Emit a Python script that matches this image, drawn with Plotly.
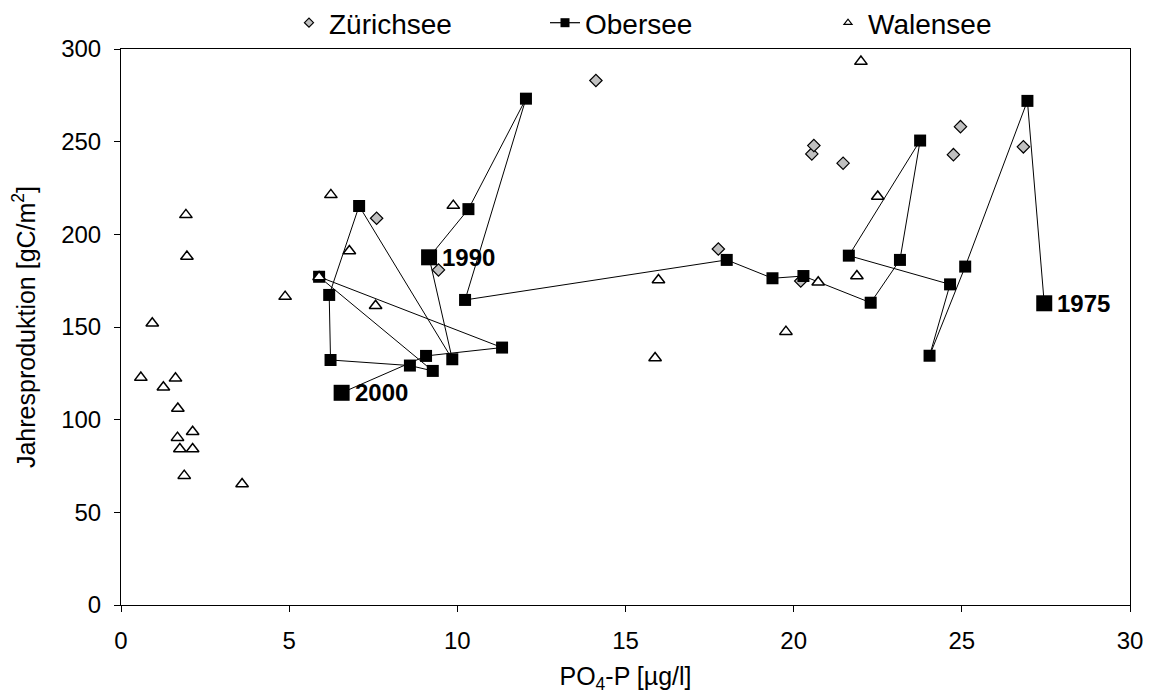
import plotly.graph_objects as go

# --- Data -------------------------------------------------------------
zuerich_x = [7.60, 9.44, 14.12, 17.76, 20.21, 20.54, 20.60, 21.47, 24.75, 24.96, 26.83]
zuerich_y = [208.7, 180.8, 283.0, 192.1, 174.8, 243.4, 247.9, 238.4, 243.0, 258.1, 247.2]

ober_years = list(range(1975, 2001))
ober_x = [27.45, 26.95, 25.10, 24.04, 24.65, 21.64, 23.76, 23.16, 22.29, 20.29,
          19.37, 18.01, 10.23, 12.04, 10.33, 9.16, 9.85, 7.08, 6.19, 6.23,
          8.59, 9.27, 5.89, 11.33, 9.07, 6.56]
ober_y = [162.8, 272.0, 182.6, 134.5, 173.0, 188.5, 250.6, 186.2, 163.1, 177.5,
          176.3, 186.2, 164.6, 273.2, 213.6, 187.6, 132.6, 215.3, 167.3, 132.2,
          129.2, 126.3, 177.1, 138.9, 134.4, 114.5]
labeled_years = [1975, 1990, 2000]

walen_x = [0.59, 0.93, 1.26, 1.62, 1.69, 1.68, 2.13, 1.75, 2.13, 1.88, 1.93, 1.96,
           3.60, 4.88, 5.89, 6.24, 6.79, 7.57, 9.88, 15.98, 15.88, 19.77, 20.73,
           21.88, 22.50, 22.00]
walen_y = [122.7, 152.0, 117.5, 122.3, 106.0, 90.3, 93.5, 84.2, 84.2, 69.8, 210.5, 188.0,
           65.3, 166.4, 177.0, 221.3, 191.0, 161.5, 215.5, 175.4, 133.3, 147.5, 174.1,
           177.5, 220.4, 293.2]

x_ticks = [0, 5, 10, 15, 20, 25, 30]
y_ticks = [0, 50, 100, 150, 200, 250, 300]

FONT = "Liberation Sans, Arial, sans-serif"

fig = go.Figure()

fig.add_trace(go.Scatter(
    x=zuerich_x, y=zuerich_y, mode="markers", name="Zürichsee", showlegend=False,
    marker=dict(symbol="diamond", size=9.5, color="#c0c0c0", opacity=1,
                line=dict(color="black", width=1.2)),
))

ober_sizes = [16 if yr in labeled_years else 12 for yr in ober_years]
fig.add_trace(go.Scatter(
    x=ober_x, y=ober_y, mode="lines+markers", name="Obersee", showlegend=False,
    line=dict(color="black", width=1),
    marker=dict(symbol="square", size=ober_sizes, color="black", opacity=1, line=dict(width=0)),
))

fig.add_trace(go.Scatter(
    x=walen_x, y=walen_y, mode="markers", name="Walensee", showlegend=False,
    marker=dict(symbol="triangle-up", size=11, color="white", opacity=1,
                line=dict(color="black", width=1.5)),
))

# Legend-only entries (small symbols), each in its own legend for exact placement
fig.add_trace(go.Scatter(
    x=[None], y=[None], mode="markers", name="Zürichsee", legend="legend",
    marker=dict(symbol="diamond", size=7, color="#c0c0c0", line=dict(color="black", width=1.2)),
))
fig.add_trace(go.Scatter(
    x=[None], y=[None], mode="lines+markers", name="Obersee", legend="legend2",
    line=dict(color="black", width=1.2),
    marker=dict(symbol="square", size=9, color="black", line=dict(width=0)),
))
fig.add_trace(go.Scatter(
    x=[None], y=[None], mode="markers", name="Walensee", legend="legend3",
    marker=dict(symbol="triangle-up", size=7, color="white", line=dict(color="black", width=1.2)),
))

for yr in labeled_years:
    i = ober_years.index(yr)
    fig.add_annotation(
        x=ober_x[i], y=ober_y[i], text=f"<b>{yr}</b>", showarrow=False,
        xanchor="left", yanchor="middle", xshift=11,
        font=dict(family=FONT, size=24, color="black"),
    )

leg_common = dict(orientation="h", yanchor="middle", y=1 - 23 / 694, yref="container",
                  xanchor="left", xref="container",
                  font=dict(family=FONT, size=28, color="black"),
                  bgcolor="rgba(0,0,0,0)", borderwidth=0)
fig.update_layout(
    width=1151, height=694,
    margin=dict(l=121, r=21, t=49, b=89, autoexpand=False),
    paper_bgcolor="white", plot_bgcolor="white",
    font=dict(family=FONT, size=24, color="black"),
    legend=dict(x=289 / 1151, **leg_common),
    legend2=dict(x=545 / 1151, **leg_common),
    legend3=dict(x=828 / 1151, **leg_common),
    xaxis=dict(
        range=[0, 30], tickvals=x_ticks, ticktext=[str(v) for v in x_ticks],
        showgrid=False, zeroline=False, showline=True, mirror=True,
        linecolor="black", linewidth=1, ticks="outside", ticklen=6, tickcolor="black",
        ticklabelstandoff=8,
        tickfont=dict(family=FONT, size=24),
        title=dict(text="PO<sub>4</sub>-P [µg/l]", font=dict(family=FONT, size=25), standoff=16),
    ),
    yaxis=dict(
        range=[0, 300], tickvals=y_ticks, ticktext=[str(v) for v in y_ticks],
        showgrid=False, zeroline=False, showline=True, mirror=True,
        linecolor="black", linewidth=1, ticks="outside", ticklen=6, tickcolor="black",
        ticklabelstandoff=8,
        tickfont=dict(family=FONT, size=24),
        title=dict(text="Jahresproduktion [gC/m<sup>2</sup>]", font=dict(family=FONT, size=25), standoff=18),
    ),
)

fig.write_html("out.html")
